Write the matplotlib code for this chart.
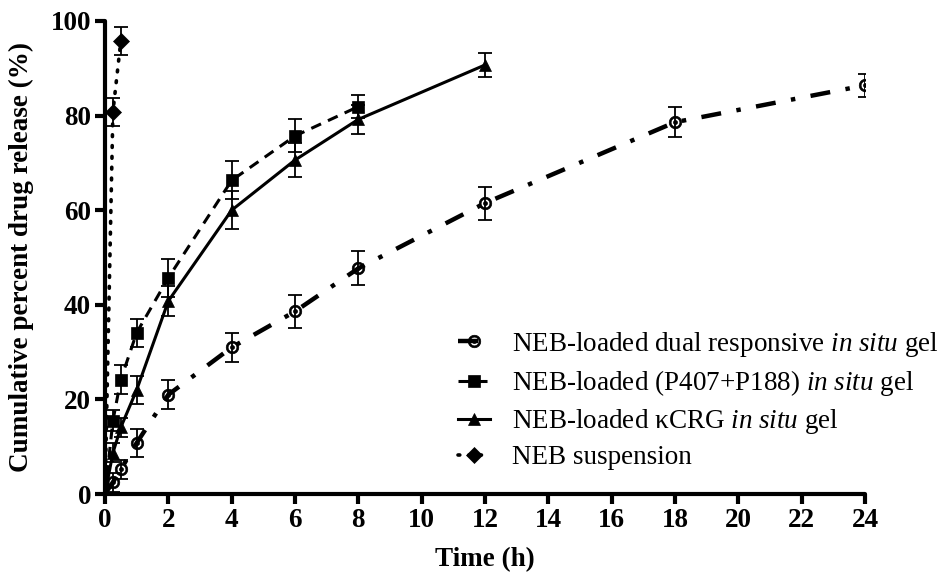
import numpy as np
import matplotlib
matplotlib.use("Agg")
import matplotlib.pyplot as plt
from matplotlib.path import Path

plt.rcParams['font.family'] = ['Liberation Serif', 'DejaVu Serif']
plt.rcParams['mathtext.fontset'] = 'custom'
plt.rcParams['mathtext.rm'] = 'Liberation Serif'
plt.rcParams['mathtext.it'] = 'Liberation Serif:italic'

# ---- data ----
t_dual = [0, 0.25, 0.5, 1, 2, 4, 6, 8, 12, 18, 24]
v_dual = [0, 2.5, 5.2, 10.8, 21.0, 31.0, 38.6, 47.7, 61.5, 78.6, 86.4]
e_dual = [0, 2.0, 2.0, 3.0, 3.0, 3.0, 3.5, 3.6, 3.5, 3.2, 2.5]

t_pol = [0, 0.25, 0.5, 1, 2, 4, 6, 8]
v_pol = [0, 15.5, 24.2, 34.1, 45.7, 66.3, 75.7, 81.9]
e_pol = [0, 2.2, 3.0, 3.0, 4.0, 4.0, 3.5, 2.5]

t_crg = [0, 0.25, 0.5, 1, 2, 4, 6, 8, 12]
v_crg = [0, 8.7, 14.1, 22.0, 40.8, 60.0, 70.6, 79.2, 90.7]
e_crg = [0, 2.0, 2.0, 3.0, 3.2, 4.0, 3.6, 3.0, 2.6]

t_sus = [0, 0.25, 0.5]
v_sus = [0, 80.8, 95.8]
e_sus = [0, 3.0, 3.0]

labels = [r"NEB-loaded dual responsive $\it{in\ situ}$ gel",
          r"NEB-loaded (P407+P188) $\it{in\ situ}$ gel",
          r"NEB-loaded $\mathrm{\kappa}$CRG $\it{in\ situ}$ gel",
          "NEB suspension"]
x_ticks = [0, 2, 4, 6, 8, 10, 12, 14, 16, 18, 20, 22, 24]
y_ticks = [0, 20, 40, 60, 80, 100]

# ---- dotted-circle marker ----
def circ(r, ccw=True, n=64):
    th = np.linspace(0, 2 * np.pi, n)
    if not ccw:
        th = th[::-1]
    v = np.column_stack([r * np.cos(th), r * np.sin(th)])
    return Path(v, closed=True)

dot_circle = Path.make_compound_path(circ(1.0, True), circ(0.7, False), circ(0.32, True))

fig = plt.figure(figsize=(9.4, 5.83), dpi=100)
ax = fig.add_axes([105 / 940, 1 - 494 / 583, 760 / 940, 473 / 583])

ekw = dict(ecolor='black', elinewidth=1.3, capsize=5, capthick=1.3)

def series(t, v, e, ls, lw, marker, ms, label, dashes=None, mfc='black'):
    ax.errorbar(t[1:], v[1:], yerr=e[1:], fmt='none', zorder=3, **ekw)
    line, = ax.plot(t, v, color='black', linestyle=ls, lw=lw, marker=marker, ms=ms,
                    markevery=list(range(1, len(t))), mfc=mfc, mec='black', mew=0.5,
                    label=label, zorder=4)
    if dashes is not None:
        line.set_dashes(dashes)
    return line

l1 = series(t_dual, v_dual, e_dual, '-.', 3.2, dot_circle, 9, labels[0], dashes=(4.5, 3.5, 1, 3.5))
l2 = series(t_pol, v_pol, e_pol, '--', 2.2, 's', 8, labels[1], dashes=(3.5, 2.5))
l3 = series(t_crg, v_crg, e_crg, '-', 2.2, '^', 8, labels[2])
l4 = series(t_sus, v_sus, e_sus, ':', 2.6, 'D', 8, labels[3], dashes=(0.5, 2.5))
l4.set_dash_capstyle('round')

ax.set_xlim(0, 24)
ax.set_ylim(0, 100)
ax.set_xticks(x_ticks)
ax.set_yticks(y_ticks)
for s in ['top', 'right']:
    ax.spines[s].set_visible(False)
for s in ['left', 'bottom']:
    ax.spines[s].set_linewidth(3.0)
    ax.spines[s].set_capstyle('round')
ax.tick_params(axis='both', direction='out', length=7, width=3.0, labelsize=19.5, pad=3)
for lab in ax.get_xticklabels() + ax.get_yticklabels():
    lab.set_fontweight('bold')

ax.set_xlabel("Time (h)", fontsize=19.5, fontweight='bold', labelpad=10)
ax.set_ylabel("Cumulative percent drug release (%)", fontsize=19.5, fontweight='bold', labelpad=12)

leg = fig.legend(handles=[l1, l2, l3, l4], loc='upper left', bbox_to_anchor=(447 / 940, 1 - 319 / 583),
                 frameon=False, fontsize=19.5, handlelength=1.2, handletextpad=0.8, labelspacing=0.34,
                 borderaxespad=0)

fig.savefig("out.png", dpi=100)
